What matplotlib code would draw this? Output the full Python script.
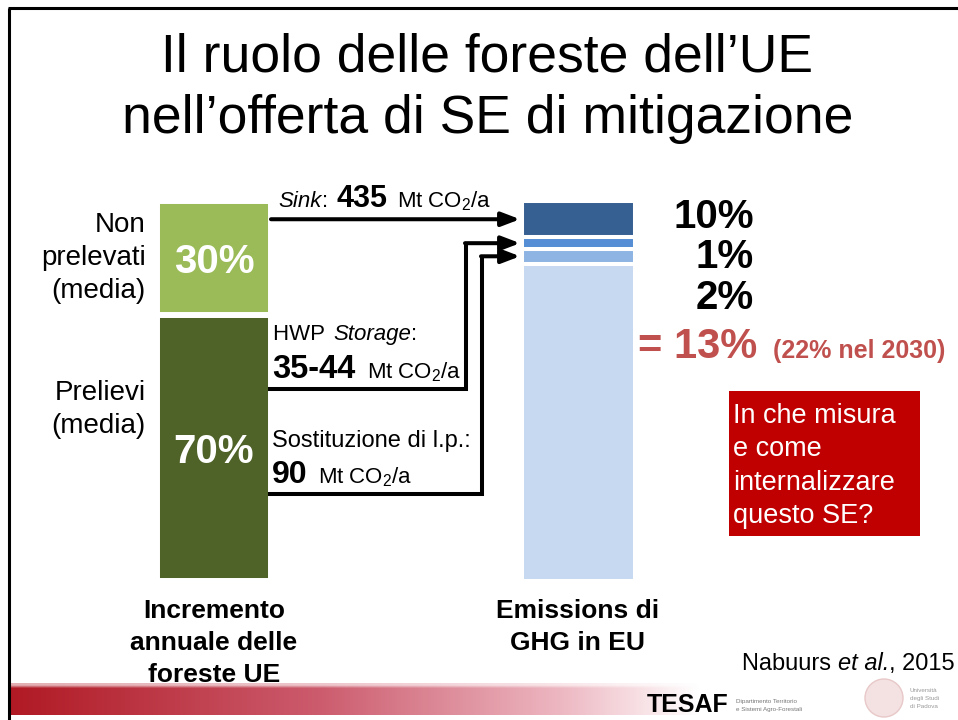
import numpy as np
import matplotlib
matplotlib.use('Agg')
import matplotlib.pyplot as plt
from matplotlib.patches import Rectangle, Circle

plt.rcParams['font.family'] = ['Liberation Sans', 'DejaVu Sans']
plt.rcParams['mathtext.fontset'] = 'custom'
plt.rcParams['mathtext.rm'] = 'Liberation Sans'
plt.rcParams['mathtext.it'] = 'Liberation Sans:italic'
plt.rcParams['mathtext.bf'] = 'Liberation Sans:bold'

# ---- data ----
forest_share = [70, 30]                       # prelievi, non prelevati (bottom -> top)
forest_labels = ["70%", "30%"]
forest_colors = ['#4f6228', '#9bbb59']
forest_names = [["Prelievi", "(media)"], ["Non", "prelevati", "(media)"]]

# emission bar as drawn: resto, sostituzione, HWP storage, sink (bottom -> top)
emis_height = [83.5, 3.9, 3.0, 9.6]
emis_colors = ['#c6d9f1', '#8eb4e3', '#558ed5', '#376092']
emis_labels = ["10%", "1%", "2%"]             # sink, HWP, sostituzione
total_label = "= 13%"
total_2030 = "(22% nel 2030)"

sink_value = "435"
hwp_value = "35-44"
subst_value = "90"
unit = "Mt CO$_2$/a"

title_lines = ["Il ruolo delle foreste dell\u2019UE",
               "nell\u2019offerta di SE di mitigazione"]
question = ["In che misura", "e come", "internalizzare", "questo SE?"]
xlabel_forest = ["Incremento", "annuale delle", "foreste UE"]
xlabel_emis = ["Emissions di", "GHG in EU"]

W, H = 958, 720
fig = plt.figure(figsize=(W / 100, H / 100), dpi=100)

# bar axes (x in pixel units, y in percent)
bar_top, bar_bot = 201, 581
bx = fig.add_axes([0, (H - bar_bot) / H, 1, (bar_bot - bar_top) / H])
bx.set_xlim(0, W)
bx.set_ylim(0, 100)
bx.axis('off')

left_x, right_x = 214, 578.5
bottom = 0
for val, col, lab in zip(forest_share, forest_colors, forest_labels):
    bx.bar(left_x, val, bottom=bottom, width=114, color=col,
           edgecolor='white', linewidth=4.3)
    bx.text(left_x, bottom + val / 2, lab, ha='center', va='center_baseline',
            color='white', fontsize=29, fontweight='bold')
    bottom += val

emis_bottoms = []
bottom = 0
for val, col in zip(emis_height, emis_colors):
    bx.bar(right_x, val, bottom=bottom, width=113, color=col,
           edgecolor='white', linewidth=2.9)
    emis_bottoms.append(bottom)
    bottom += val

# overlay axes in pixel coordinates
ax = fig.add_axes([0, 0, 1, 1])
ax.set_xlim(0, W)
ax.set_ylim(H, 0)
ax.axis('off')
ax.patch.set_alpha(0)


def to_px(y):
    d = bx.transData.transform((0, y))
    return ax.transData.inverted().transform(d)[1]


def stack(x, y0, step, lines, **kw):
    for i, t in enumerate(lines):
        ax.text(x, y0 + i * step, t, va='baseline', **kw)


# slide frame
ax.plot([9, 9], [8, H], color='black', lw=2.2, solid_capstyle='butt')
ax.plot([8, W], [8, 8], color='black', lw=2.2, solid_capstyle='butt')

# title
ax.text(487, 72, title_lines[0], ha='center', va='baseline', fontsize=38.5)
ax.text(488, 133, title_lines[1], ha='center', va='baseline', fontsize=38.5)

# left labels
stack(146, 232, 33, forest_names[1], ha='right', fontsize=20)
stack(146, 400, 33, forest_names[0], ha='right', fontsize=20)

# arrow targets = centres of the emission segments
y_sink = to_px(emis_bottoms[3] + emis_height[3] / 2)
y_hwp = to_px(emis_bottoms[2] + emis_height[2] / 2)
y_sub = to_px(emis_bottoms[1] + emis_height[1] / 2)

tip = 520
aprops = dict(arrowstyle='-|>,head_length=1.1,head_width=0.42', color='black',
              lw=2.9, shrinkA=0, shrinkB=0, mutation_scale=10)
ax.annotate('', xy=(tip, y_sink), xytext=(271, y_sink), arrowprops=aprops)

ax.plot([268, 466, 466], [389, 389, y_hwp], color='black', lw=2.9,
        solid_joinstyle='miter', solid_capstyle='butt')
ax.annotate('', xy=(tip, y_hwp), xytext=(465, y_hwp), arrowprops=aprops)

ax.plot([268, 482, 482], [494, 494, y_sub], color='black', lw=2.9,
        solid_joinstyle='miter', solid_capstyle='butt')
ax.annotate('', xy=(tip, y_sub), xytext=(481, y_sub), arrowprops=aprops)

# flow labels
ax.text(278, 207, "Sink", style='italic', fontsize=16, va='baseline')
ax.text(322, 207, ":", fontsize=16, va='baseline')
ax.text(337, 207, sink_value, fontsize=22, fontweight='bold', va='baseline')
ax.text(397, 207, unit, fontsize=16, va='baseline')

ax.text(273, 340, "HWP ", fontsize=16, va='baseline')
ax.text(333, 340, "Storage", style='italic', fontsize=16, va='baseline')
ax.text(411, 340, ":", fontsize=16, va='baseline')
ax.text(272, 378, hwp_value, fontsize=23.5, fontweight='bold', va='baseline')
ax.text(367, 378, unit, fontsize=16, va='baseline')

ax.text(272, 447, "Sostituzione di l.p.:", fontsize=17, va='baseline')
ax.text(272, 483, subst_value, fontsize=23, fontweight='bold', va='baseline')
ax.text(318, 483, unit, fontsize=16, va='baseline')

# percentages
for lab, yb in zip(emis_labels, [228, 268, 309]):
    ax.text(754, yb, lab, ha='right', va='baseline', fontsize=29,
            fontweight='bold')
ax.text(638, 358, total_label, color='#c0504d', fontsize=30,
        fontweight='bold', va='baseline')
ax.text(773, 358, total_2030, color='#c0504d', fontsize=18,
        fontweight='bold', va='baseline', ha='left')

# question box
ax.add_patch(Rectangle((729, 391), 191, 145, facecolor='#c00000',
                       edgecolor='none'))
stack(733, 423, 33.3, question, color='white', fontsize=19.5)

# bottom labels
stack(214, 618, 32, xlabel_forest, ha='center', fontsize=19,
      fontweight='bold')
stack(578, 618, 32, xlabel_emis, ha='center', fontsize=19,
      fontweight='bold')

# source
ax.text(742, 670, "Nabuurs ", fontsize=17, va='baseline')
ax.text(838, 670, "et al.", style='italic', fontsize=17, va='baseline')
ax.text(889, 670, ", 2015", fontsize=17, va='baseline')

# footer band
xs = np.linspace(0, 1, 400)
stops = [0, 0.45, 0.8, 1.0]
r = np.interp(xs, stops, [0.69, 0.80, 0.93, 1.0])
g = np.interp(xs, stops, [0.10, 0.36, 0.72, 1.0])
b = np.interp(xs, stops, [0.14, 0.43, 0.76, 1.0])
rows = np.linspace(0, 1, 32)
vfade = np.clip(rows / 0.15, 0.35, 1.0)
img = np.zeros((32, 400, 4))
img[..., 0] = r[None, :]
img[..., 1] = g[None, :]
img[..., 2] = b[None, :]
img[..., 3] = vfade[:, None]
ax.imshow(img, extent=(10, 700, 715, 683), aspect='auto', zorder=0,
          interpolation='bilinear')

# logos
ax.text(647, 712, "TESAF", fontsize=18, fontweight='bold', va='baseline')
ax.text(736, 703, "Dipartimento Territorio", fontsize=4.5, color='#777777',
        va='baseline')
ax.text(736, 711, "e Sistemi Agro-Forestali", fontsize=4.5, color='#777777',
        va='baseline')
ax.add_patch(Circle((884, 698), 19, facecolor='#f4e2e2', edgecolor='#e8c8c8',
                    lw=1))
stack(910, 692, 8, ["Universit\u00e0", "degli Studi", "di Padova"],
      fontsize=4.5, color='#999999')

ax.set_xlim(0, W)
ax.set_ylim(H, 0)

fig.savefig('out.png', dpi=100)
